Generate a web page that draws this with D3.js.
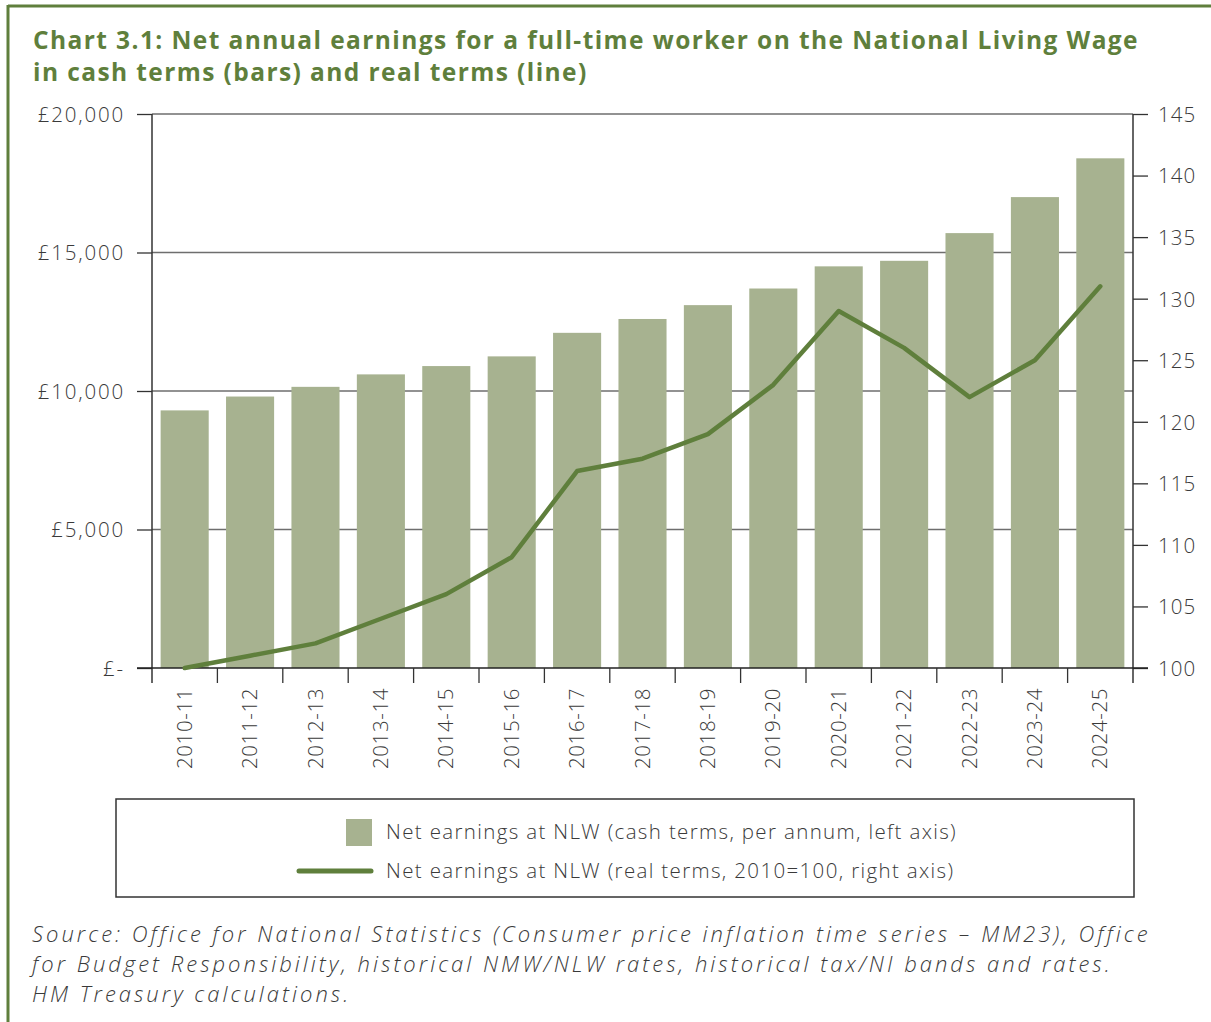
<!DOCTYPE html>
<html><head><meta charset="utf-8">
<script src="https://cdn.jsdelivr.net/npm/d3@7"></script>
<style>
body{margin:0;background:#fff;}
svg{display:block;}
</style></head>
<body>
<svg id="chart" width="1211" height="1022"></svg>
<script>
const categories = ["2010-11","2011-12","2012-13","2013-14","2014-15","2015-16","2016-17","2017-18","2018-19","2019-20","2020-21","2021-22","2022-23","2023-24","2024-25"];
const cashValues = [9300,9800,10150,10600,10900,11250,12100,12600,13100,13700,14500,14700,15700,17000,18400];
const realValues = [100,101,102,104,106,109,116,117,119,123,129,126,122,125,131];
const leftTicks = [0,5000,10000,15000,20000];
const leftTickLabels = ["£-","£5,000","£10,000","£15,000","£20,000"];
const rightTicks = [100,105,110,115,120,125,130,135,140,145];
const titleLines = ["Chart 3.1: Net annual earnings for a full-time worker on the National Living Wage","in cash terms (bars) and real terms (line)"];
const legendLabels = ["Net earnings at NLW (cash terms, per annum, left axis)","Net earnings at NLW (real terms, 2010=100, right axis)"];
const sourceLines = ["Source: Office for National Statistics (Consumer price inflation time series – MM23), Office","for Budget Responsibility, historical NMW/NLW rates, historical tax/NI bands and rates.","HM Treasury calculations."];

const green = "#5f7f3c", barCol = "#a7b290", txt = "#3a3a3a";
const font = "'Open Sans', 'Noto Sans', sans-serif";
const svg = d3.select("#chart");

// frame
svg.append("line").attr("x1",8).attr("x2",1211).attr("y1",6).attr("y2",6).attr("stroke",green).attr("stroke-width",3);
svg.append("line").attr("x1",8).attr("x2",8).attr("y1",5).attr("y2",1022).attr("stroke",green).attr("stroke-width",3);

// widen text via letter-spacing to match the reference's wide typeface
function fitLS(sel, target){
  const node = sel.node();
  const w = node.getComputedTextLength();
  const n = node.textContent.length;
  const ls = (target - w) / n;
  sel.attr("letter-spacing", ls);
  return ls;
}

// title
const t1 = svg.append("text").attr("x",33).attr("y",49).attr("font-family",font).attr("font-weight",700)
  .attr("font-size",24.5).attr("fill",green).text(titleLines[0]);
const tls = fitLS(t1, 1106);
svg.append("text").attr("x",33).attr("y",81).attr("font-family",font).attr("font-weight",700)
  .attr("font-size",24.5).attr("letter-spacing",tls).attr("fill",green).text(titleLines[1]);

const L=152, R=1133, T=114, B=668;
const x = d3.scaleBand().domain(categories).range([L,R]).paddingInner(0.265).paddingOuter(0.132);
const xb = d3.scaleBand().domain(categories).range([L,R]);
const yL = d3.scaleLinear().domain([0,20000]).range([B,T]);
const yR = d3.scaleLinear().domain([100,145]).range([B,T]);

// gridlines
svg.append("g").selectAll("line").data(leftTicks.slice(1)).join("line")
  .attr("x1",L).attr("x2",R).attr("y1",d=>yL(d)).attr("y2",d=>yL(d))
  .attr("stroke","#6e6e6e").attr("stroke-width",1.3);

// bars
svg.append("g").selectAll("rect").data(categories).join("rect")
  .attr("x",d=>x(d)).attr("width",x.bandwidth())
  .attr("y",(d,i)=>yL(cashValues[i])).attr("height",(d,i)=>B-yL(cashValues[i]))
  .attr("fill",barCol);

// axes
const axStyle = g=>{
  g.selectAll(".domain").remove();
  g.selectAll(".tick line").attr("stroke","#333").attr("stroke-width",1.3);
  g.selectAll(".tick text").attr("font-family",font).attr("font-weight",300).attr("font-size",20.5).attr("fill",txt);
};
const gl = svg.append("g").attr("transform",`translate(${L},0)`)
  .call(d3.axisLeft(yL).tickValues(leftTicks).tickFormat((d,i)=>leftTickLabels[i]).tickSize(15).tickPadding(12));
axStyle(gl);
gl.selectAll(".tick text").attr("dy","0.36em").attr("letter-spacing",1.8);
const gr = svg.append("g").attr("transform",`translate(${R},0)`)
  .call(d3.axisRight(yR).tickValues(rightTicks).tickSize(15).tickPadding(10));
axStyle(gr);
gr.selectAll(".tick text").attr("dy","0.36em").attr("letter-spacing",1.0);

// axis lines
svg.append("line").attr("x1",L).attr("x2",L).attr("y1",T).attr("y2",B+15).attr("stroke","#333").attr("stroke-width",1.5);
svg.append("line").attr("x1",R).attr("x2",R).attr("y1",T).attr("y2",B+15).attr("stroke","#333").attr("stroke-width",1.5);
svg.append("line").attr("x1",L-15).attr("x2",R+15).attr("y1",B).attr("y2",B).attr("stroke","#222").attr("stroke-width",1.5);

// x ticks at band boundaries
svg.append("g").selectAll("line").data(categories.slice(1)).join("line")
  .attr("x1",d=>xb(d)).attr("x2",d=>xb(d)).attr("y1",B).attr("y2",B+15)
  .attr("stroke","#333").attr("stroke-width",1.3);

// x labels
svg.append("g").selectAll("text").data(categories).join("text")
  .attr("transform",d=>`translate(${xb(d)+xb.bandwidth()/2+7},${B+20}) rotate(-90)`)
  .attr("text-anchor","end").attr("font-family",font).attr("font-weight",300).attr("font-size",20.5)
  .attr("letter-spacing",0.6).attr("fill",txt)
  .text(d=>d);

// line
const line = d3.line().x((d,i)=>xb(categories[i])+xb.bandwidth()/2).y(d=>yR(d));
svg.append("path").datum(realValues).attr("d",line).attr("fill","none")
  .attr("stroke",green).attr("stroke-width",4.5).attr("stroke-linecap","round").attr("stroke-linejoin","round");

// legend
svg.append("rect").attr("x",116).attr("y",799).attr("width",1018).attr("height",98)
  .attr("fill","none").attr("stroke","#333").attr("stroke-width",1.5);
svg.append("rect").attr("x",346).attr("y",819).attr("width",26).attr("height",27).attr("fill",barCol);
svg.append("line").attr("x1",299).attr("x2",371).attr("y1",871).attr("y2",871)
  .attr("stroke",green).attr("stroke-width",5).attr("stroke-linecap","round");
const lg1 = svg.append("text").attr("x",386).attr("y",839).attr("font-family",font).attr("font-weight",300).attr("font-size",20.5).attr("fill",txt).text(legendLabels[0]);
const lls = fitLS(lg1, 571);
svg.append("text").attr("x",386).attr("y",878).attr("font-family",font).attr("font-weight",300).attr("font-size",20.5).attr("letter-spacing",lls).attr("fill",txt).text(legendLabels[1]);

// source
const s0 = svg.append("text").attr("x",32).attr("y",942).attr("font-family",font).attr("font-style","italic").attr("font-weight",300)
  .attr("font-size",22).attr("fill",txt).text(sourceLines[0]);
const sls = fitLS(s0, 1118);
sourceLines.slice(1).forEach((s,i)=>{
  svg.append("text").attr("x",32).attr("y",972+i*29.5).attr("font-family",font).attr("font-style","italic").attr("font-weight",300)
    .attr("font-size",22).attr("letter-spacing",sls).attr("fill",txt).text(s);
});
</script>
</body></html>
